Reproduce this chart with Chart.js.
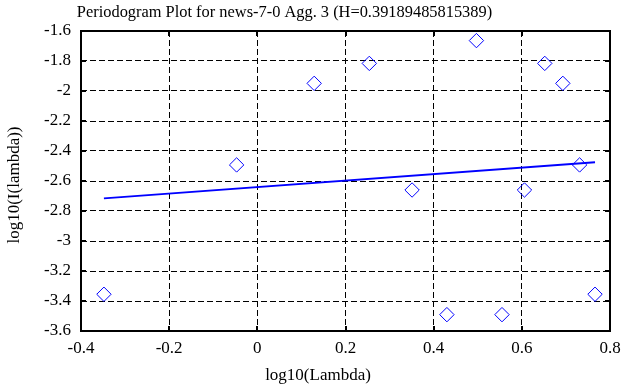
<!DOCTYPE html>
<html>
<head>
<meta charset="utf-8">
<script src="https://cdn.jsdelivr.net/npm/chart.js@4/dist/chart.umd.min.js"></script>
<style>
html,body{margin:0;padding:0;background:#fff;}
#wrap{width:637px;height:387px;position:relative;}
</style>
</head>
<body>
<div id="wrap"><canvas id="c" width="637" height="387"></canvas></div>
<script>
const chartTitle = "Periodogram Plot for news-7-0 Agg. 3 (H=0.39189485815389)";
const xAxisTitle = "log10(Lambda)";
const yAxisTitle = "log10(I(lambda))";
const logLambda = [-0.348, -0.047, 0.129, 0.254, 0.351, 0.430, 0.497, 0.555, 0.606, 0.652, 0.693, 0.731, 0.766];
const logPeriodogram = [-3.355, -2.493, -1.949, -1.816, -2.660, -3.491, -1.664, -3.491, -2.660, -1.816, -1.949, -2.493, -3.355];
const fitX = [-0.348, 0.766];
const fitY = [-2.716, -2.475];
const xTicks = [-0.4, -0.2, 0, 0.2, 0.4, 0.6, 0.8];
const yTicks = [-3.6, -3.4, -3.2, -3, -2.8, -2.6, -2.4, -2.2, -2, -1.8, -1.6];

const FONT = "'Liberation Serif', 'Times New Roman', serif";
const fmt = v => String(Math.round(v * 10) / 10);

const framePlugin = {
  id: 'frame',
  afterDatasetsDraw(chart) {
    const {ctx, chartArea: a, scales: {x, y}} = chart;
    ctx.save();
    ctx.strokeStyle = '#000';
    ctx.lineWidth = 2;
    ctx.strokeRect(a.left, a.top, a.right - a.left, a.bottom - a.top);
    const t = 5;
    ctx.beginPath();
    xTicks.forEach(v => {
      const px = Math.round(x.getPixelForValue(v));
      ctx.moveTo(px, a.bottom); ctx.lineTo(px, a.bottom - t);
      ctx.moveTo(px, a.top); ctx.lineTo(px, a.top + t);
    });
    yTicks.forEach(v => {
      const py = Math.round(y.getPixelForValue(v));
      ctx.moveTo(a.left, py); ctx.lineTo(a.left + t, py);
      ctx.moveTo(a.right, py); ctx.lineTo(a.right - t, py);
    });
    ctx.stroke();
    ctx.fillStyle = '#000';
    ctx.textAlign = 'center';
    ctx.textBaseline = 'middle';
    ctx.font = "16.4px " + FONT;
    ctx.fillText(chartTitle, 284.5, 13);
    ctx.font = "17px " + FONT;
    ctx.fillText(xAxisTitle, 318, 376);
    ctx.translate(15, 185);
    ctx.rotate(-Math.PI / 2);
    ctx.fillText(yAxisTitle, 0, 0);
    ctx.restore();
  }
};

const gridColor = ctx => {
  const v = ctx.tick ? ctx.tick.value : null;
  const s = ctx.scale;
  if (v === null) return 'rgba(0,0,0,0)';
  if (Math.abs(v - s.min) < 1e-6 || Math.abs(v - s.max) < 1e-6) return 'rgba(0,0,0,0)';
  return '#000';
};

new Chart(document.getElementById('c'), {
  type: 'scatter',
  data: {
    datasets: [
      {
        type: 'line',
        data: fitX.map((v, i) => ({x: v, y: fitY[i]})),
        borderColor: '#0000ff',
        borderWidth: 1.8,
        pointRadius: 0,
        fill: false
      },
      {
        data: logLambda.map((v, i) => ({x: v, y: logPeriodogram[i]})),
        pointStyle: 'rectRot',
        pointRadius: 7.2,
        pointHoverRadius: 7.2,
        borderColor: '#0000ff',
        backgroundColor: 'rgba(0,0,0,0)',
        borderWidth: 1
      }
    ]
  },
  options: {
    responsive: false,
    animation: false,
    events: [],
    layout: {padding: {left: 0, right: 27, top: 31, bottom: 0}},
    plugins: {legend: {display: false}, title: {display: false}, tooltip: {enabled: false}},
    scales: {
      x: {
        type: 'linear', min: -0.4, max: 0.8,
        afterBuildTicks: s => { s.ticks = xTicks.map(v => ({value: v})); },
        afterFit: s => { s.height = 56; },
        ticks: {callback: v => fmt(v), color: '#000', padding: 7, maxRotation: 0, font: {family: FONT, size: 17}},
        grid: {color: gridColor, lineWidth: 1, drawTicks: false},
        border: {display: false, dash: [6, 3]}
      },
      y: {
        type: 'linear', min: -3.6, max: -1.6,
        afterBuildTicks: s => { s.ticks = yTicks.map(v => ({value: v})); },
        afterFit: s => { s.width = 81; },
        ticks: {callback: v => fmt(v), color: '#000', padding: 10, font: {family: FONT, size: 17}},
        grid: {color: gridColor, lineWidth: 1, drawTicks: false},
        border: {display: false, dash: [6, 3]}
      }
    }
  },
  plugins: [framePlugin]
});
</script>
</body>
</html>
